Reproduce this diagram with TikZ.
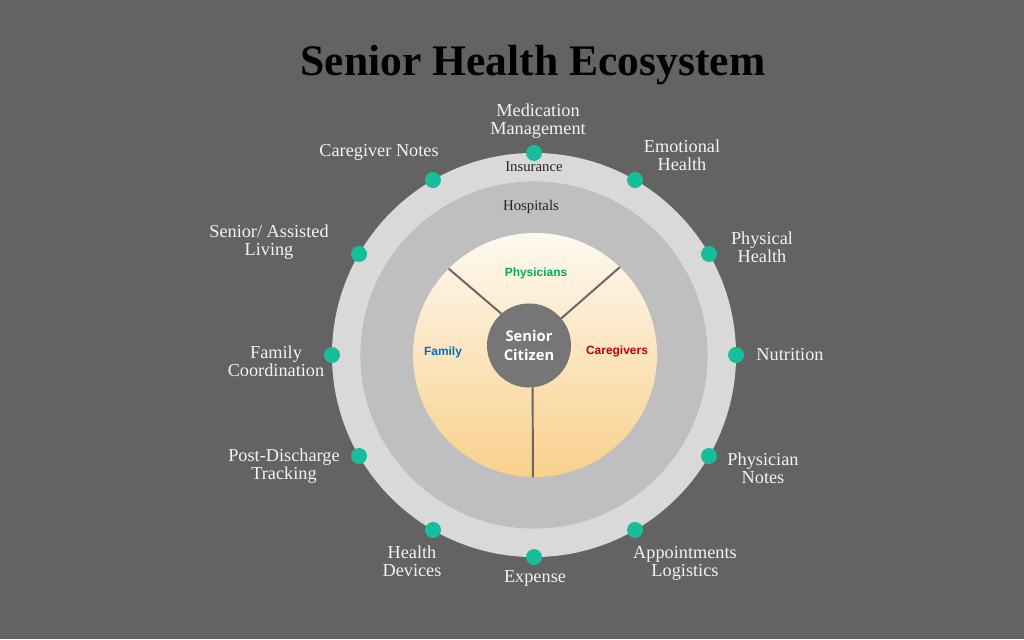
\documentclass[tikz,border=0pt]{standalone}
\usepackage{fontspec}
\setmainfont{Liberation Serif}
\newfontfamily\citfont{Open Sans}
\newfontfamily\innfont{Liberation Sans}
\usetikzlibrary{shapes,calc,positioning}
\definecolor{bg}{HTML}{636363}
\definecolor{ringc}{HTML}{D9D9D9}
\definecolor{hospc}{HTML}{BFBFBF}
\definecolor{hospline}{HTML}{AFC4C4}
\definecolor{coretop}{HTML}{FEF9F0}
\definecolor{corebot}{HTML}{F9D08C}
\definecolor{citc}{HTML}{767676}
\definecolor{dotc}{HTML}{16BE9D}
\definecolor{lbltext}{HTML}{F2F2F2}
\definecolor{bandtext}{HTML}{262626}
\definecolor{physc}{HTML}{00B050}
\definecolor{famc}{HTML}{0070C0}
\definecolor{carec}{HTML}{C00000}
\definecolor{divc}{HTML}{666666}

\begin{document}
\begin{tikzpicture}
	[x=0.025cm,y=0.025cm,
	every node/.style={inner sep=0pt,outer sep=0pt},
	disc/.style={shape=circle,draw=none},
	dot/.style={shape=circle,fill=dotc,minimum size=0.4cm},
	lbl/.style={text=lbltext,align=center,font=\fontsize{13}{12.8}\selectfont},
	band/.style={text=bandtext,font=\fontsize{10.5}{12}\selectfont},
	inner/.style={font=\innfont\bfseries\fontsize{8.5}{10}\selectfont}]
	\fill[bg] (0,0) rectangle (1024,639);
	\node[text=black,font=\bfseries\fontsize{31}{36}\selectfont] (title) at (533,574) {Senior Health Ecosystem};

	\node[disc,fill=ringc,minimum size=10.1cm] (ring) at (534,284) {};
	\node[disc,fill=hospc,draw=hospline,line width=0.7pt,minimum size=8.65cm] (hosp) at (534,284) {};
	\node[disc,top color=coretop,bottom color=corebot,minimum size=6.1cm] (core) at (535,284) {};
	\node[disc,fill=citc,minimum size=2.1cm,align=center,text=white,
		font=\citfont\bfseries\fontsize{10.5}{14}\selectfont] (cit) at (529,293.5) {Senior\\Citizen};

	\path
	\foreach \startAng/\endAng in {131/135,40/46,-85/-91}
	{
		(cit.\startAng) edge[-,divc,line width=1.4pt] (core.\endAng)
	};

	\node[band] (ins) at (534,472) {Insurance};
	\node[band] (hos) at (531,432) {Hospitals};
	\node[inner,text=physc] (phys) at (536,366) {Physicians};
	\node[inner,text=famc] (fam) at (443,287) {Family};
	\node[inner,text=carec] (care) at (617,288) {Caregivers};

	\foreach \a/\n in {90/d1,60/d2,30/d3,0/d4,-30/d5,-60/d6,-90/d7,-120/d8,-150/d9,180/d10,150/d11,120/d12}
		\node[dot] (\n) at (ring.\a) {};

	\node[lbl] (med) at (538,518) {Medication\\Management};
	\node[lbl] (emo) at (682,484) {Emotional\\Health};
	\node[lbl] (phy) at (762,392) {Physical\\Health};
	\node[lbl] (nut) at (790,284) {Nutrition};
	\node[lbl] (phn) at (763,171) {Physician\\Notes};
	\node[lbl] (apl) at (685,76) {Appointments\\Logistics};
	\node[lbl] (exp) at (535,61) {Expense};
	\node[lbl] (hdv) at (412,78) {Health\\Devices};
	\node[lbl] (pdt) at (284,173) {Post-Discharge\\Tracking};
	\node[lbl] (fco) at (276,278) {Family\\Coordination};
	\node[lbl] (sal) at (269,397) {Senior/ Assisted\\Living};
	\node[lbl] (cgn) at (379,487) {Caregiver Notes};
\end{tikzpicture}
\end{document}
